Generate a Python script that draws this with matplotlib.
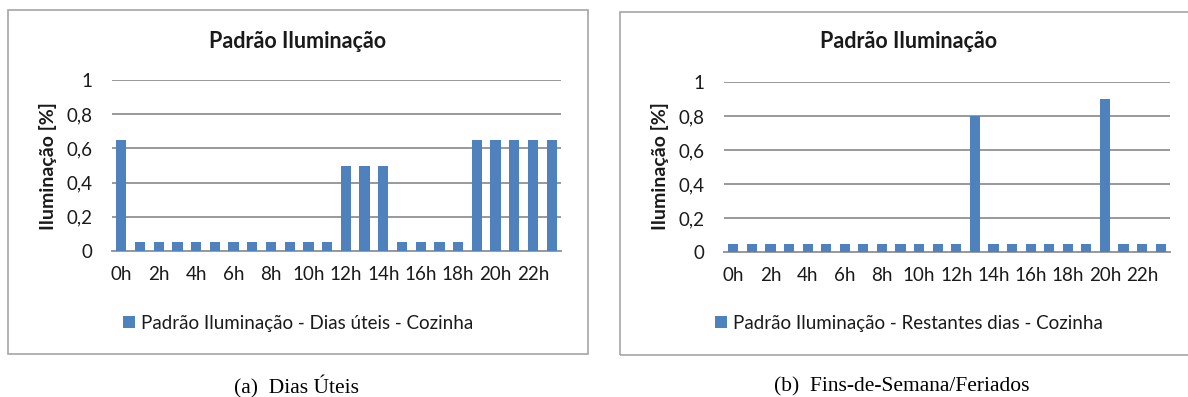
import matplotlib
matplotlib.use("Agg")
import matplotlib.pyplot as plt
from matplotlib.patches import Rectangle

# data
hours = list(range(24))
tick_labels = ["0h", "2h", "4h", "6h", "8h", "10h", "12h", "14h", "16h", "18h", "20h", "22h"]
uteis = [0.65, 0.05, 0.05, 0.05, 0.05, 0.05, 0.05, 0.05, 0.05, 0.05, 0.05, 0.05,
         0.5, 0.5, 0.5, 0.05, 0.05, 0.05, 0.05, 0.65, 0.65, 0.65, 0.65, 0.65]
restantes = [0.05, 0.05, 0.05, 0.05, 0.05, 0.05, 0.05, 0.05, 0.05, 0.05, 0.05, 0.05,
             0.05, 0.8, 0.05, 0.05, 0.05, 0.05, 0.05, 0.05, 0.9, 0.05, 0.05, 0.05]
yticks = [0, 0.2, 0.4, 0.6, 0.8, 1.0]
ytick_labels = ["0", "0,2", "0,4", "0,6", "0,8", "1"]

W, H = 1188, 397
plt.rcParams['font.family'] = ['Lato', 'DejaVu Sans']
fig = plt.figure(figsize=(W / 100, H / 100), dpi=100)

bar_color = "#4F81BD"
grid_color = "#999999"
text_color = "#1a1a1a"


def fx(px):
    return px / W


def fy(py):
    return 1 - py / H


def panel(x0, x1, y_top, y_base, values, box, title_x, legend_label, ylabel_x, caption, cap_x, fsize=13.5):
    # outer chart border
    bx0, by0, bx1, by1 = box
    fig.patches.append(Rectangle((fx(bx0), fy(by1)), fx(bx1 - bx0), (by1 - by0) / H,
                                 transform=fig.transFigure, fill=False,
                                 edgecolor="#A6A6A6", lw=1.2, clip_on=False))
    ax = fig.add_axes([fx(x0), fy(y_base), fx(x1 - x0), (y_base - y_top) / H])
    ax.bar(hours, values, width=0.55, color=bar_color, label=legend_label, zorder=3)
    ax.set_xlim(-0.5, 23.5)
    ax.set_ylim(0, 1)
    ax.set_yticks(yticks)
    ax.set_yticklabels(ytick_labels)
    ax.set_xticks(hours[::2])
    ax.set_xticklabels(tick_labels)
    ax.tick_params(length=0, labelsize=fsize, colors=text_color)
    ax.tick_params(axis='y', pad=14)
    ax.tick_params(axis='x', pad=11)
    for s in ["top", "right", "left"]:
        ax.spines[s].set_visible(False)
    ax.spines["bottom"].set_color(grid_color)
    ax.spines["bottom"].set_linewidth(1.4)
    ax.yaxis.grid(True, color=grid_color, lw=1.4, zorder=0)
    ax.set_axisbelow(True)

    fig.text(fx(title_x), fy(42), "Padrão Iluminação", ha="center", va="center",
             fontsize=15.5, fontweight="bold", color=text_color)
    fig.text(fx(ylabel_x), fy(166), "Iluminação [%]", ha="center", va="center",
             rotation=90, fontsize=14, fontweight="bold", color=text_color)
    ax.legend(loc="center", bbox_to_anchor=(fx(title_x), fy(323)), bbox_transform=fig.transFigure,
              frameon=False, fontsize=fsize, handlelength=0.65, handleheight=0.65,
              handletextpad=0.3, labelcolor=text_color)
    fig.text(fx(cap_x), fy(387), caption, ha="center", va="center",
             fontsize=15.5, family="Liberation Serif", color="black")
    return ax


panel(112, 561, 80, 251, uteis, (8, 10, 588, 354), 298,
      "Padrão Iluminação - Dias úteis - Cozinha", 48, "(a)  Dias Úteis", 297)
panel(724, 1170, 82, 252, restantes, (620, 12, 1198, 355), 909,
      "Padrão Iluminação - Restantes dias - Cozinha", 660, "(b)  Fins-de-Semana/Feriados", 902)

fig.savefig("out.png", dpi=100)
